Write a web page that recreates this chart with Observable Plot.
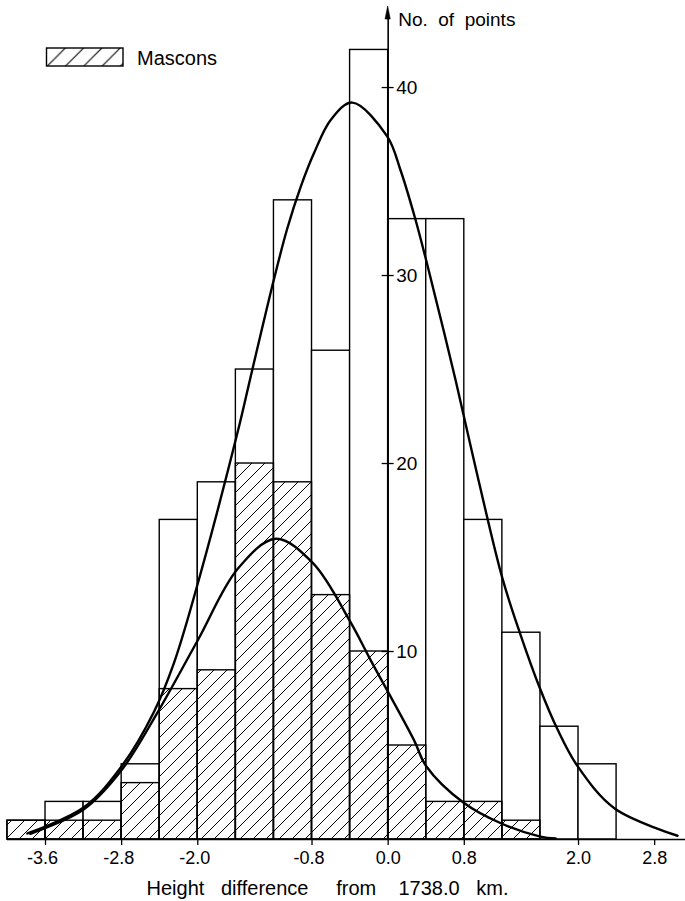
<!DOCTYPE html>
<html>
<head>
<meta charset="utf-8">
<script src="https://cdn.jsdelivr.net/npm/d3@7"></script>
<script src="https://cdn.jsdelivr.net/npm/@observablehq/plot@0.6"></script>
<style>
  html, body { margin: 0; padding: 0; background: #fff; }
  #chart svg { display: block; }
</style>
</head>
<body>
<div id="chart"></div>
<script>
// ---- data ----
const binStart = [-4.0, -3.6, -3.2, -2.8, -2.4, -2.0, -1.6, -1.2, -0.8, -0.4, 0.0, 0.4, 0.8, 1.2, 1.6, 2.0];
const binWidth = 0.4;
const allPoints = [1, 2, 2, 4, 17, 19, 25, 34, 26, 42, 33, 33, 17, 11, 6, 4];
const mascons   = [1, 1, 1, 3, 8, 9, 20, 19, 13, 10, 5, 2, 2, 1, 0, 0];

// smooth curves
const allCurveX = [-3.79, -3.2, -2.8, -2.46, -2.25, -2.04, -1.58, -1.45, -1.2, -1.06, -0.92, -0.78, -0.6, -0.377, -0.01, 0.13, 0.28, 0.41, 0.71, 0.95, 1.2, 1.39, 1.59, 1.78, 1.99, 2.38, 3.04];
const allCurveY = [0.32, 1.7, 3.9, 6.8, 9.4, 12.9, 21.7, 24.5, 29.8, 32.5, 34.7, 36.5, 38.3, 39.2, 37.4, 35.6, 33.1, 30.6, 24.4, 19.1, 13.9, 10.9, 8.1, 5.85, 3.9, 1.65, 0.2];
const masCurveX = [-3.76, -3.2, -2.8, -2.43, -2.0, -1.58, -1.18, -0.79, -0.4, -0.18, 0.27, 0.4, 0.79, 1.19, 1.6, 1.76];
const masCurveY = [0.3, 1.6, 3.7, 6.7, 10.6, 14.4, 16.0, 14.7, 11.6, 9.5, 5.3, 3.9, 1.97, 0.85, 0.15, 0.05];

const xTicks = [-3.6, -2.8, -2.0, -0.8, 0.0, 0.8, 2.0, 2.8];
const xTickLabels = ["-3.6", "-2.8", "-2.0", "-0.8", "0.0", "0.8", "2.0", "2.8"];
const yTicks = [10, 20, 30, 40];
const xTitle = "Height\u00a0\u00a0\u00a0difference\u00a0\u00a0\u00a0\u00a0\u00a0from\u00a0\u00a0\u00a0\u00a01738.0\u00a0\u00a0\u00a0km.";
const yTitle = "No.\u00a0\u00a0of\u00a0\u00a0points";
const legendLabel = "Mascons";

// ---- derived tables ----
const bins = binStart.map((x0, i) => ({x1: x0, x2: +(x0 + binWidth).toFixed(1), total: allPoints[i], mascons: mascons[i]}));
const masBins = bins.filter(d => d.mascons > 0);
const allCurve = allCurveX.map((x, i) => ({x, y: allCurveY[i]}));
const masCurve = masCurveX.map((x, i) => ({x, y: masCurveY[i]}));
const xTickRows = xTicks.map((v, i) => ({v, label: xTickLabels[i]}));

const W = 685, H = 901;
const xDomain = [-4.073, 3.124];
const yDomain = [0, 44.63];
const pxX = W / (xDomain[1] - xDomain[0]);
const pxY = (H - 62) / (yDomain[1] - yDomain[0]);
const font = "'Liberation Sans', Arial, Helvetica, sans-serif";

const plot = Plot.plot({
  width: W,
  height: H,
  marginLeft: 0,
  marginRight: 0,
  marginTop: 0,
  marginBottom: 62,
  style: {fontFamily: font, background: "white", color: "black", overflow: "visible"},
  x: {domain: xDomain, axis: null},
  y: {domain: yDomain, axis: null},
  marks: [
    // all points histogram (outlined)
    Plot.rect(bins, {x1: "x1", x2: "x2", y1: () => 0, y2: "total", fill: "white", stroke: "black", strokeWidth: 1.4}),
    // mascon histogram (hatched)
    Plot.rect(masBins, {x1: "x1", x2: "x2", y1: () => 0, y2: "mascons", fill: "url(#hatch)", stroke: "black", strokeWidth: 1.4}),
    // baseline
    Plot.ruleY([{y: 0, x1: -4.0, x2: xDomain[1]}], {y: "y", x1: "x1", x2: "x2", stroke: "black", strokeWidth: 1.5}),
    // x ticks
    Plot.ruleX(xTicks, {x: d => d, y1: () => 0, y2: () => -6 / pxY, stroke: "black", strokeWidth: 1.3}),
    Plot.text(xTickRows.filter(d => d.v < 0), {x: "v", y: () => 0, text: "label", dy: 19, dx: -3, fontSize: 18, textAnchor: "middle"}),
    Plot.text(xTickRows.filter(d => d.v >= 0), {x: "v", y: () => 0, text: "label", dy: 19, fontSize: 18, textAnchor: "middle"}),
    // x title
    Plot.text([xTitle], {x: () => -2.539, y: () => 0, text: d => d, dy: 49, fontSize: 20, textAnchor: "start"}),
    // fitted curves
    Plot.line(allCurve, {x: "x", y: "y", curve: "catmull-rom", stroke: "black", strokeWidth: 2.4}),
    Plot.line(masCurve, {x: "x", y: "y", curve: "catmull-rom", stroke: "black", strokeWidth: 2.4}),
    // y axis (vertical line at x = 0)
    Plot.ruleX([{x: 0, y1: 0, y2: (H - 62 - 14) / pxY}], {x: "x", y1: "y1", y2: "y2", stroke: "black", strokeWidth: 1.6}),
    Plot.ruleY(yTicks, {y: d => d, x1: () => -6 / pxX, x2: () => 6 / pxX, stroke: "black", strokeWidth: 1.3}),
    Plot.text(yTicks, {x: () => 0, y: d => d, text: d => String(d), dx: 8, fontSize: 19, textAnchor: "start"}),
    Plot.text([yTitle], {x: () => 0, y: () => (H - 62 - 19.5) / pxY, text: d => d, dx: 10, fontSize: 19, textAnchor: "start"})
  ]
});

const svg = d3.select(plot);
svg.insert("defs", ":first-child").html(
  '<pattern id="hatch" patternUnits="userSpaceOnUse" width="13" height="13">' +
  '<path d="M0,13 L13,0 M-1,1 L1,-1 M12,14 L14,12" stroke="black" stroke-width="1" fill="none"/></pattern>' +
  '<pattern id="hatchL" patternUnits="userSpaceOnUse" x="47" y="48" width="18.3" height="18.3">' +
  '<path d="M0,18.3 L18.3,0 M-1,1 L1,-1 M17.3,19.3 L19.3,17.3" stroke="black" stroke-width="1.1" fill="none"/></pattern>'
);

// arrowhead on the y axis
const x0 = plot.scale("x").apply(0);
svg.append("path")
  .attr("d", `M${x0},6 L${x0 - 2.6},19 L${x0 + 2.6},19 Z`)
  .attr("fill", "black").attr("stroke", "black").attr("stroke-width", 0.6);

// legend
const lg = svg.append("g");
lg.append("rect").attr("x", 46.5).attr("y", 48).attr("width", 76.5).attr("height", 18)
  .attr("fill", "url(#hatchL)").attr("stroke", "black").attr("stroke-width", 1.4);
lg.append("text").attr("x", 137).attr("y", 65).attr("font-size", 20)
  .attr("text-anchor", "start")
  .attr("font-family", font).attr("fill", "black").text(legendLabel);

document.getElementById("chart").appendChild(plot);
</script>
</body>
</html>
